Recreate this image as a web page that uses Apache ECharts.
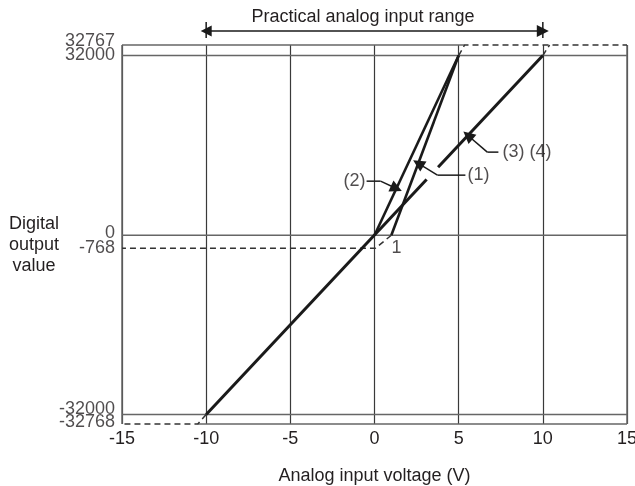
<!DOCTYPE html>
<html>
<head>
<meta charset="utf-8">
<script src="https://cdn.jsdelivr.net/npm/echarts@6/dist/echarts.min.js"></script>
<style>
  html, body { margin: 0; padding: 0; background: #fff; }
  #chart { width: 635px; height: 486px; }
</style>
</head>
<body>
<div id="chart"></div>
<script>
// ---- data ----
const xTicks = [-15, -10, -5, 0, 5, 10, 15];
const yTicks = [32767, 32000, 0, -768, -32000, -32768];
const yTickLabels = ['32767', '32000', '0', '-768', '-32000', '-32768'];
const gridLevels = [32000, 0, -32000];

// conversion characteristics
const line34Volts = [-10, 10];
const line34Digital = [-32000, 32000];
const line2Volts = [0, 5];
const line2Digital = [0, 32000];
const line1Volts = [1, 5];
const line1Digital = [0, 32000];

// dashed parts outside the practical range
const ext34LowVolts = [-10, -10.5, -15];
const ext34LowDigital = [-32000, -32768, -32768];
const ext34HighVolts = [10, 10.4];
const ext34HighDigital = [32000, 32767];
const ext12HighVolts = [5, 5.35, 15];
const ext12HighDigital = [32000, 32767, 32767];
const ext1LowVolts = [1, 0.05, -15];
const ext1LowDigital = [0, -768, -768];

const practicalRange = [-10, 10];

// leader callouts: label, arrow tip on the line
const leaderLabels = ['(1)', '(2)', '(3) (4)'];
const leaderTipVolts = [2.6, 1.3, 5.55];
const leaderTipDigital = [12800, 8320, 17760];

// ---- schematic y scale (full-scale bands and the -768 offset are stretched) ----
const scaleDigital = [-32768, -32000, -768, 0, 32000, 32767];
const scaleUnits = [-188.5, -179, -13, 0, 179.5, 190];
function toUnits(d) {
  for (let i = 0; i < scaleDigital.length - 1; i++) {
    const a = scaleDigital[i], b = scaleDigital[i + 1];
    if (d <= b || i === scaleDigital.length - 2) {
      return scaleUnits[i] + (d - a) / (b - a) * (scaleUnits[i + 1] - scaleUnits[i]);
    }
  }
}
const path = (volts, digital) => volts.map((v, i) => [v, toUnits(digital[i])]);

// ---- styles / layout ----
const FONT = '"Liberation Sans", Arial, sans-serif';
const TEXT = '#231f20';
const INK = '#1a1a1a';
const FRAME = '#666';
const DASH = { color: '#333', width: 1.5, type: [6, 4] };
// vertical nudge (px) of the crowded y tick labels
const labelShift = [-3.5, -0.5, -2, 0, -5, -2];
const leaderLayout = [
  { start: 5.4, elbow: 3.74, level: 10700, align: 'left', gap: 2 },
  { start: -0.47, elbow: 0.36, level: 9630, align: 'right', gap: -1 },
  { start: 7.36, elbow: 6.7, level: 14800, align: 'left', gap: 4 }
];
// where line (3)(4) is broken for the (1) leader
const breakVolts = [3.1, 3.78];
const RANGE_ARROW_U = 204;
const RANGE_BAR_U = [197, 213];

function seg(data, lineStyle, z) {
  return { type: 'line', data, symbol: 'none', silent: true, clip: false, animation: false, lineStyle, z: z || 2 };
}

const series = [];
// frame and horizontal grid
series.push(seg(path([-15, -15], [-32768, 32767]), { color: FRAME, width: 1.5 }));
series.push(seg(path([15, 15], [-32768, 32767]), { color: FRAME, width: 1.5 }));
series.push(seg(path([-15, 5.35], [32767, 32767]), { color: FRAME, width: 1.5 }));
series.push(seg(path([-10.5, 15], [-32768, -32768]), { color: FRAME, width: 1.5 }));
gridLevels.forEach(lv => series.push(seg(path([-15, 15], [lv, lv]), { color: FRAME, width: 1.5 })));

// dashed extensions
series.push(seg(path(ext34LowVolts, ext34LowDigital), DASH, 3));
series.push(seg(path(ext34HighVolts, ext34HighDigital), DASH, 3));
series.push(seg(path(ext12HighVolts, ext12HighDigital), DASH, 3));
series.push(seg(path(ext1LowVolts, ext1LowDigital), DASH, 3));

// characteristics
series.push(seg(path(line34Volts, line34Digital), { color: INK, width: 3 }, 5));
series.push(seg(path(line2Volts, line2Digital), { color: INK, width: 2.6 }, 5));
series.push(seg(path(line1Volts, line1Digital), { color: INK, width: 2.6 }, 5));

// white break in line (3)(4) where the leader of (1) passes
const u34 = v => toUnits(line34Digital[0] + (v - line34Volts[0]) / (line34Volts[1] - line34Volts[0]) * (line34Digital[1] - line34Digital[0]));
series.push(seg(breakVolts.map(v => [v, u34(v)]), { color: '#fff', width: 6, cap: 'butt' }, 5.5));

// leaders
const arrowLines = [];
const labelPoints = [];
leaderLabels.forEach((txt, i) => {
  const L = leaderLayout[i];
  const lvU = toUnits(L.level);
  series.push(seg([[L.start, lvU], [L.elbow, lvU]], { color: INK, width: 1.5 }, 6));
  arrowLines.push({ coords: [[L.elbow, lvU], [leaderTipVolts[i], toUnits(leaderTipDigital[i])]] });
  labelPoints.push({
    value: [L.start, lvU],
    label: { formatter: txt, align: L.align, offset: [L.gap, 0] }
  });
});
labelPoints.push({ value: [1.3, toUnits(-768)], label: { formatter: '1', align: 'center' } });

// y tick labels, placed through the y scale
yTicks.forEach((t, i) => labelPoints.push({
  value: [xTicks[0], toUnits(t)],
  label: { formatter: yTickLabels[i], align: 'right', offset: [-7, labelShift[i]] }
}));

series.push({
  type: 'lines', coordinateSystem: 'cartesian2d', silent: true, animation: false, clip: false, z: 6,
  symbol: ['none', 'triangle'], symbolSize: [10, 12],
  lineStyle: { color: INK, width: 1.5, opacity: 1, curveness: 0 },
  data: arrowLines
});

// practical range arrow
series.push({
  type: 'lines', coordinateSystem: 'cartesian2d', silent: true, animation: false, clip: false, z: 6,
  symbol: ['triangle', 'triangle'], symbolSize: [11, 12],
  lineStyle: { color: INK, width: 1.5, opacity: 1 },
  data: [{ coords: [[practicalRange[0], RANGE_ARROW_U], [practicalRange[1], RANGE_ARROW_U]] }]
});
practicalRange.forEach(v => series.push(seg([[v, RANGE_BAR_U[0]], [v, RANGE_BAR_U[1]]], { color: INK, width: 1.5 }, 6)));

series.push({
  type: 'scatter', symbolSize: 0, silent: true, animation: false, clip: false, z: 7,
  label: { show: true, position: 'inside', fontFamily: FONT, fontSize: 18, color: TEXT, verticalAlign: 'middle' },
  data: labelPoints
});

const chart = echarts.init(document.getElementById('chart'));
chart.setOption({
  animation: false,
  backgroundColor: '#fff',
  grid: { left: 122, right: 8, top: 45, bottom: 62, containLabel: false, outerBoundsMode: 'none' },
  xAxis: {
    type: 'value', min: xTicks[0], max: xTicks[xTicks.length - 1], interval: 5,
    axisLine: { show: false }, axisTick: { show: false },
    splitLine: { show: true, lineStyle: { color: '#3a3a3a', width: 1.2 } },
    axisLabel: { margin: 6, fontFamily: FONT, fontSize: 18, color: TEXT, showMinLabel: true, showMaxLabel: true, hideOverlap: false },
    name: 'Analog input voltage (V)', nameLocation: 'middle', nameGap: 43,
    nameTextStyle: { fontFamily: FONT, fontSize: 18, color: TEXT }
  },
  yAxis: {
    type: 'value', min: scaleUnits[0], max: scaleUnits[scaleUnits.length - 1],
    axisLine: { show: false }, axisTick: { show: false }, splitLine: { show: false },
    axisLabel: { show: false }
  },
  graphic: [
    { type: 'text', x: 363, y: 8, silent: true,
      style: { text: 'Practical analog input range', font: '18px ' + FONT, fill: TEXT, align: 'center', verticalAlign: 'top' } },
    { type: 'text', x: 34, y: 214, silent: true,
      style: { text: 'Digital\noutput\nvalue', font: '18px ' + FONT, fill: TEXT, align: 'center', verticalAlign: 'top', lineHeight: 21 } }
  ],
  series: series
});
</script>
</body>
</html>
